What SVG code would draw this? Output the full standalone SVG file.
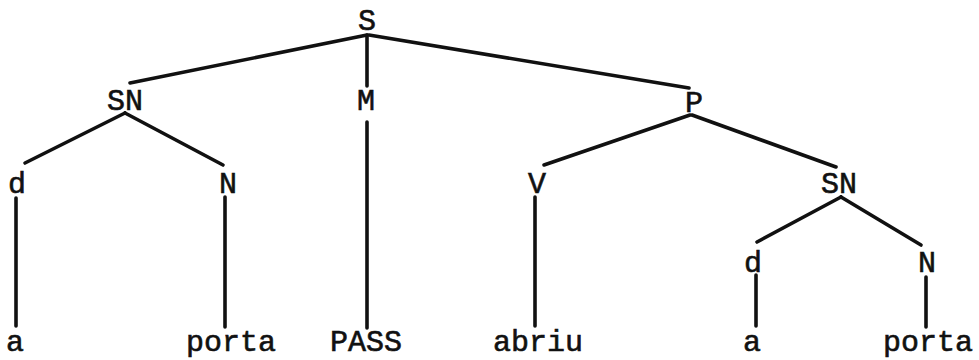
<svg xmlns="http://www.w3.org/2000/svg" width="979" height="360" viewBox="0 0 979 360">
<style>
text{font-family:"Liberation Mono","DejaVu Sans Mono",monospace;font-size:30px;fill:#111;text-anchor:middle;stroke:#111;stroke-width:0.6}
.e{stroke:#111;stroke-width:3.6;stroke-linecap:round;fill:none}
</style>
<rect width="979" height="360" fill="#fff"/>
<g id="connectors">
<line class="e" x1="367" y1="35" x2="130" y2="83"/>
<line class="e" x1="367" y1="35" x2="367" y2="86"/>
<line class="e" x1="369" y1="35" x2="689" y2="88"/>
<line class="e" x1="125" y1="113" x2="25" y2="163"/>
<line class="e" x1="125" y1="113" x2="223" y2="165"/>
<line class="e" x1="367" y1="122" x2="367" y2="328"/>
<line class="e" x1="690" y1="115" x2="544" y2="165"/>
<line class="e" x1="692" y1="115" x2="836" y2="167"/>
<line class="e" x1="16" y1="198" x2="16" y2="326"/>
<line class="e" x1="225" y1="197" x2="225" y2="327"/>
<line class="e" x1="535" y1="197" x2="535" y2="326"/>
<line class="e" x1="841" y1="197" x2="757" y2="242"/>
<line class="e" x1="841" y1="197" x2="921" y2="245"/>
<line class="e" x1="756" y1="275" x2="756" y2="326"/>
<line class="e" x1="926" y1="277" x2="926" y2="327"/>
</g>
<g id="n-S"><text x="367" y="30">S</text></g>
<g id="n-SN1"><text x="125" y="110">SN</text></g>
<g id="n-M"><text x="366" y="110">M</text></g>
<g id="n-P"><text x="694" y="112">P</text></g>
<g id="n-d1"><text x="17" y="193">d</text></g>
<g id="n-N1"><text x="228" y="193">N</text></g>
<g id="n-V"><text x="537" y="193">V</text></g>
<g id="n-SN2"><text x="839" y="193">SN</text></g>
<g id="n-d2"><text x="753" y="272">d</text></g>
<g id="n-N2"><text x="927" y="272">N</text></g>
<g id="n-a1"><text x="15" y="351">a</text></g>
<g id="n-porta1"><text x="231" y="351">porta</text></g>
<g id="n-PASS"><text x="366" y="351">PASS</text></g>
<g id="n-abriu"><text x="538" y="351">abriu</text></g>
<g id="n-a2"><text x="752" y="351">a</text></g>
<g id="n-porta2"><text x="928" y="351">porta</text></g>
</svg>
